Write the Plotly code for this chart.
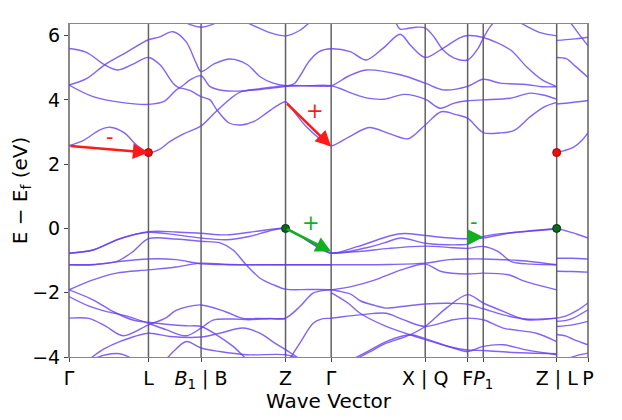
import plotly.graph_objects as go

# ---------------- high-symmetry path ----------------
kpath_pos = [0.0, 0.794, 1.32, 2.164, 2.62, 3.56, 3.984, 4.14, 4.874, 5.187]
kpath_labels = ["Γ", "L", "<i>B</i><sub>1</sub> | B", "Z", "Γ", "X | Q", "F",
                "<i>P</i><sub>1</sub>", "Z | L", "P"]
y_ticks = [-4, -2, 0, 2, 4, 6]

# ---------------- conduction bands ----------------
c1_k = [0, 0.15, 0.3, 0.41, 0.55, 0.68, 0.794, 0.9, 1.007, 1.15, 1.32, 1.47, 1.71, 1.91, 2.164,
        2.25, 2.31, 2.40, 2.50, 2.62, 2.81, 2.97, 3.14, 3.31, 3.41, 3.56, 3.74, 3.9, 3.984, 4.14,
        4.41, 4.57, 4.73, 4.874]
c1_e = [2.57, 2.75, 3.05, 3.15, 2.98, 2.58, 2.36, 2.45, 2.70, 2.95, 3.19, 3.64, 4.24, 4.32, 4.42,
        4.5, 4.75, 5.2, 5.5, 5.59, 5.5, 5.24, 5.61, 6.04, 5.71, 5.32, 5.61, 5.92, 6.0, 5.94,
        5.56, 5.04, 4.62, 4.41]

c2_k = [0, 0.24, 0.574, 0.794, 0.95, 1.10, 1.2, 1.32, 1.41, 1.47, 1.6, 1.72, 1.85, 1.97, 2.08, 2.164,
        2.21, 2.37, 2.54, 2.62, 2.8, 3.0, 3.2, 3.39, 3.56, 3.72, 3.87, 3.984, 4.14, 4.3, 4.45, 4.6,
        4.75, 4.874]
c2_e = [4.46, 4.10, 3.90, 3.86, 3.95, 4.36, 4.3, 4.10, 4.0, 3.72, 3.28, 3.22, 3.33, 3.58, 3.82, 3.94,
        3.79, 3.17, 2.71, 2.57, 2.85, 3.14, 2.95, 2.79, 3.22, 3.63, 3.54, 3.43, 2.98, 2.97, 3.05, 3.45,
        3.78, 3.92]

c3_k = [0, 0.17, 0.357, 0.574, 0.794, 0.9, 1.04, 1.17, 1.27, 1.32, 1.45, 1.61, 1.78, 1.91, 2.04, 2.164,
        2.4, 2.62, 2.8, 2.97, 3.31, 3.56, 3.74, 3.984, 4.14, 4.31, 4.57, 4.73, 4.874]
c3_e = [4.46, 4.65, 5.09, 5.48, 5.87, 5.95, 6.12, 5.81, 5.15, 4.88, 5.12, 5.27, 5.1, 4.72, 4.52, 4.44,
        4.44, 4.44, 4.75, 4.93, 4.78, 4.52, 4.31, 4.42, 4.64, 4.52, 4.48, 4.41, 4.41]

c4_k = [0, 0.174, 0.357, 0.49, 0.64, 0.794, 0.91, 1.04, 1.10, 1.21, 1.32, 1.41, 1.54, 1.74, 1.94, 2.164,
        2.4, 2.62, 2.83, 2.97, 3.15, 3.35, 3.56, 3.71, 3.85, 3.984, 4.14, 4.41, 4.61, 4.74, 4.874]
c4_e = [5.60, 5.48, 5.09, 4.93, 5.11, 5.32, 5.09, 4.52, 4.38, 4.62, 4.75, 4.41, 4.29, 4.28, 4.36, 4.44,
        4.44, 4.44, 4.2, 4.06, 4.02, 4.17, 4.02, 3.74, 3.9, 3.97, 4.0, 4.05, 4.21, 4.15, 4.02]

c5_k = [1.14, 1.22, 1.32, 1.42, 1.5]
c5_e = [6.45, 6.33, 6.26, 6.33, 6.45]

c6_k = [1.75, 1.85, 2.0, 2.164, 2.3, 2.42]
c6_e = [6.45, 6.3, 6.1, 5.99, 6.15, 6.45]

t2_k = [3.26, 3.31, 3.38, 3.47, 3.56, 3.65, 3.74, 3.85, 3.984, 4.09, 4.14, 4.21, 4.26]
t2_e = [6.45, 6.2, 6.22, 6.26, 6.24, 5.95, 5.55, 5.3, 5.24, 5.61, 5.92, 6.28, 6.45]

t3_k = [4.48, 4.58, 4.7, 4.874]
t3_e = [6.45, 6.28, 6.1, 5.99]

# segment Z|L -> P (conduction)
a1_k = [4.874, 4.95, 5.04, 5.12, 5.187]
a1_e = [2.36, 2.42, 2.52, 2.72, 2.97]
a2_k = [4.874, 5.03, 5.187]
a2_e = [3.87, 3.92, 3.98]
a3_k = [4.874, 4.97, 5.06, 5.187]
a3_e = [5.32, 5.28, 5.05, 4.70]
a4_k = [4.874, 5.03, 5.187]
a4_e = [5.85, 5.89, 5.95]
a5_k = [5.0, 5.06, 5.12, 5.187]
a5_e = [6.45, 6.2, 5.95, 5.68]

# ---------------- valence bands ----------------
v1_k = [0, 0.24, 0.5, 0.794, 1.07, 1.32, 1.57, 1.9, 2.164, 2.3, 2.5, 2.62,
        2.89, 3.22, 3.35, 3.56, 3.74, 3.984, 4.14, 4.39, 4.874]
v1_e = [-0.77, -0.67, -0.33, -0.10, -0.11, -0.15, -0.2, -0.08, 0.0, -0.22, -0.6, -0.77,
        -0.56, -0.22, -0.16, -0.22, -0.28, -0.32, -0.3, -0.15, 0.0]

v2_k = [0, 0.24, 0.5, 0.794, 1.07, 1.32, 1.57, 1.8, 2.0, 2.164, 2.3, 2.5, 2.62,
        2.96, 3.15, 3.32, 3.56, 3.89, 3.984, 4.14, 4.56, 4.874]
v2_e = [-0.77, -0.67, -0.33, -0.12, -0.2, -0.3, -0.35, -0.25, -0.08, 0.0, -0.22, -0.6, -0.77,
        -0.61, -0.45, -0.3, -0.46, -0.51, -0.49, -0.25, -0.1, -0.02]

v3_k = [0, 0.24, 0.474, 0.64, 0.794, 1.07, 1.32, 1.51, 1.64, 1.77, 1.91, 2.04, 2.164, 2.4, 2.62,
        2.71, 2.82, 2.91, 3.06, 3.17, 3.35, 3.56, 3.8, 3.984, 4.14, 4.34, 4.57, 4.874]
v3_e = [-1.13, -1.12, -1.03, -0.72, -0.32, -0.33, -0.4, -0.45, -0.67, -1.13, -1.55, -1.75, -1.89, -1.9,
        -1.91, -1.96, -2.05, -2.25, -2.4, -2.48, -2.42, -2.35, -2.33, -2.36, -2.5, -2.69, -2.82, -2.79]

v4_k = [0, 0.24, 0.47, 0.794, 1.07, 1.32, 1.6, 2.164, 2.62, 3.2, 3.56, 3.8, 3.984, 4.14, 4.5, 4.874]
v4_e = [-1.13, -1.13, -1.04, -0.95, -0.97, -1.1, -1.13, -1.13, -1.13, -1.12, -1.08, -0.97, -0.95,
        -0.95, -1.0, -1.13]

v5_k = [0, 0.24, 0.474, 0.794, 1.07, 1.32, 1.6, 2.164, 2.62]
v5_e = [-1.91, -1.6, -1.39, -1.29, -1.2, -1.08, -1.12, -1.13, -1.13]

w3_k = [2.62, 2.9, 3.2, 3.56, 3.84, 3.984, 4.14, 4.29, 4.42, 4.62, 4.874]
w3_e = [-0.77, -0.72, -0.62, -0.55, -0.6, -0.62, -0.56, -0.72, -1.03, -1.11, -1.13]

e1_k = [2.62, 2.82, 3.06, 3.32, 3.56, 3.72, 3.984, 4.14, 4.39, 4.56, 4.874]
e1_e = [-1.91, -1.81, -1.6, -1.29, -1.11, -1.34, -1.42, -1.39, -1.44, -1.65, -1.91]

d1_k = [0, 0.24, 0.45, 0.64, 0.794, 0.97, 1.17, 1.32, 1.474, 1.64, 1.774, 1.85]
d1_e = [-1.91, -2.22, -2.6, -2.85, -2.92, -2.98, -3.03, -3.05, -3.31, -3.67, -4.06, -4.2]

d2_k = [0, 0.2, 0.37, 0.57, 0.794, 0.97, 1.17, 1.32, 1.44, 1.64, 1.8, 2.0, 2.164, 2.307, 2.44, 2.57, 2.62]
d2_e = [-2.12, -2.42, -2.58, -2.72, -2.95, -3.15, -3.34, -3.1, -2.85, -2.82, -2.84, -2.8, -2.79,
        -2.43, -2.01, -1.92, -1.91]

d3_k = [0, 0.2, 0.37, 0.54, 0.794, 0.97, 1.07, 1.32, 1.57, 1.74, 1.9, 2.164]
d3_e = [-2.79, -2.8, -3.05, -3.34, -3.0, -2.78, -2.55, -2.38, -2.6, -2.8, -2.8, -2.82]

d4_k = [0.207, 0.35, 0.507, 0.794, 1.007, 1.32, 1.507, 1.74, 1.907, 2.05, 2.164, 2.307]
d4_e = [-4.06, -3.75, -3.52, -3.26, -3.36, -3.38, -3.26, -3.10, -3.26, -3.55, -3.77, -4.06]

d5_k = [0.24, 0.37, 0.507, 0.64]
d5_e = [-4.06, -3.93, -3.9, -4.06]

d6_k = [0.974, 1.07, 1.174, 1.32, 1.507, 1.774, 2.164, 2.307]
d6_e = [-4.06, -3.75, -3.52, -3.72, -3.83, -3.93, -3.93, -4.06]

d7_k = [2.207, 2.307, 2.44, 2.52, 2.62, 2.91, 3.17, 3.34, 3.56, 3.84, 3.984, 4.14, 4.34, 4.67, 4.874]
d7_e = [-4.06, -3.57, -2.95, -2.82, -2.79, -2.69, -2.64, -2.84, -3.05, -2.84, -2.79, -2.84, -3.10,
        -3.26, -3.52]

e3_k = [2.62, 2.8, 2.91, 3.17, 3.4, 3.56, 3.8, 3.984, 4.14, 4.4, 4.874]
e3_e = [-2.0, -2.35, -2.64, -3.05, -3.3, -3.46, -3.68, -3.78, -3.8, -3.85, -3.9]

e5_k = [2.87, 3.0, 3.17, 3.37, 3.56, 3.77, 3.984, 4.14, 4.34, 4.57, 4.874]
e5_e = [-4.06, -3.85, -3.57, -3.36, -3.05, -2.48, -2.06, -2.32, -2.58, -2.84, -2.79]

e6_k = [2.84, 3.0, 3.17, 3.41, 3.56, 3.84, 3.984, 4.14, 4.34, 4.57, 4.874]
e6_e = [-4.06, -3.8, -3.52, -3.31, -3.43, -3.72, -3.83, -3.67, -3.62, -3.78, -3.93]

# segment Z|L -> P (valence)
b1_k = [4.874, 4.97, 5.08, 5.187]
b1_e = [0.0, -0.08, -0.18, -0.30]
b2_k = [4.874, 5.03, 5.187]
b2_e = [-0.93, -0.93, -0.95]
b3_k = [4.874, 5.03, 5.187]
b3_e = [-1.33, -1.34, -1.36]
b4_k = [4.874, 4.97, 5.08, 5.187]
b4_e = [-2.79, -2.72, -2.55, -2.32]
b5_k = [4.874, 4.97, 5.04, 5.187]
b5_e = [-2.89, -2.86, -2.79, -2.53]
b6_k = [4.874, 5.03, 5.187]
b6_e = [-3.05, -3.0, -2.89]
b7_k = [4.874, 4.97, 5.04, 5.187]
b7_e = [-3.3, -3.35, -3.45, -3.62]
b8_k = [4.974, 5.08, 5.187]
b8_e = [-4.06, -3.95, -3.88]

bands = [
    (c1_k, c1_e), (c2_k, c2_e), (c3_k, c3_e), (c4_k, c4_e), (c5_k, c5_e), (c6_k, c6_e),
    (t2_k, t2_e), (t3_k, t3_e), (a1_k, a1_e), (a2_k, a2_e), (a3_k, a3_e), (a4_k, a4_e),
    (a5_k, a5_e), (v1_k, v1_e), (v2_k, v2_e), (v3_k, v3_e), (v4_k, v4_e), (v5_k, v5_e),
    (w3_k, w3_e), (e1_k, e1_e), (d1_k, d1_e), (d2_k, d2_e), (d3_k, d3_e), (d4_k, d4_e),
    (d5_k, d5_e), (d6_k, d6_e), (d7_k, d7_e), (e3_k, e3_e), (e5_k, e5_e), (e6_k, e6_e),
    (b1_k, b1_e), (b2_k, b2_e), (b3_k, b3_e), (b4_k, b4_e), (b5_k, b5_e), (b6_k, b6_e),
    (b7_k, b7_e), (b8_k, b8_e),
]

# ---------------- transitions (arrows), extremum dots, labels ----------------
red_arrow_start_k = [0.0, 2.164]
red_arrow_start_e = [2.57, 3.93]
red_arrow_end_k = [0.794, 2.62]
red_arrow_end_e = [2.36, 2.55]
green_arrow_start_k = [2.164, 3.99]
green_arrow_start_e = [0.0, -0.27]
green_arrow_end_k = [2.62, 4.14]
green_arrow_end_e = [-0.72, -0.27]

cbm_k = [0.794, 4.874]
cbm_e = [2.36, 2.36]
vbm_k = [2.164, 4.874]
vbm_e = [0.0, 0.0]

red_sign_k = [0.407, 2.457]
red_sign_e = [2.86, 3.64]
red_sign_text = ["-", "+"]
green_sign_k = [2.42, 4.05]
green_sign_e = [0.17, 0.21]
green_sign_text = ["+", "-"]

BAND_COLOR = "rgba(100,60,240,0.8)"
RED = "#ff1a1a"
GREEN = "#10b020"

fig = go.Figure()

for kk in kpath_pos:
    fig.add_shape(type="line", xref="x", yref="paper", x0=kk, x1=kk, y0=0, y1=1,
                  line=dict(color="rgba(70,70,70,0.85)", width=1.5), layer="below")

for kk, ee in bands:
    fig.add_trace(go.Scatter(x=kk, y=ee, mode="lines",
                             line=dict(color=BAND_COLOR, width=1.4, shape="spline", smoothing=0.9),
                             hoverinfo="skip"))

fig.add_trace(go.Scatter(x=cbm_k, y=cbm_e, mode="markers",
                         marker=dict(color="#e81010", size=8, line=dict(color="#b00000", width=1))))
fig.add_trace(go.Scatter(x=vbm_k, y=vbm_e, mode="markers",
                         marker=dict(color="#0b6a1a", size=8, line=dict(color="#053010", width=1))))

for i in range(len(red_arrow_start_k)):
    fig.add_annotation(x=red_arrow_end_k[i], y=red_arrow_end_e[i],
                       ax=red_arrow_start_k[i], ay=red_arrow_start_e[i],
                       xref="x", yref="y", axref="x", ayref="y", text="",
                       showarrow=True, arrowhead=2, arrowsize=1.2, arrowwidth=2.6, arrowcolor=RED)
for i in range(len(green_arrow_start_k)):
    fig.add_annotation(x=green_arrow_end_k[i], y=green_arrow_end_e[i],
                       ax=green_arrow_start_k[i], ay=green_arrow_start_e[i],
                       xref="x", yref="y", axref="x", ayref="y", text="",
                       showarrow=True, arrowhead=2, arrowsize=1.2, arrowwidth=2.6, arrowcolor=GREEN)

for i in range(len(red_sign_k)):
    fig.add_annotation(x=red_sign_k[i], y=red_sign_e[i], text=red_sign_text[i], showarrow=False,
                       font=dict(color=RED, size=21, family="DejaVu Sans"))
for i in range(len(green_sign_k)):
    fig.add_annotation(x=green_sign_k[i], y=green_sign_e[i], text=green_sign_text[i], showarrow=False,
                       font=dict(color=GREEN, size=21, family="DejaVu Sans"))

fig.update_layout(
    width=622, height=420,
    margin=dict(l=61, r=42, t=16, b=71, autoexpand=False),
    plot_bgcolor="white", paper_bgcolor="white",
    showlegend=False,
    font=dict(family="DejaVu Sans", size=19, color="black"),
)
fig.update_xaxes(range=[kpath_pos[0], kpath_pos[-1]], tickvals=kpath_pos, ticktext=kpath_labels,
                 tickangle=0, ticks="outside", ticklen=4, tickcolor="#444", automargin=False,
                 showgrid=False, zeroline=False, showline=True, linecolor="#888", mirror=True,
                 title=dict(text="Wave Vector", font=dict(size=20), standoff=2))
fig.update_yaxes(range=[-4, 6.36], tickvals=y_ticks, ticks="outside", ticklen=4, tickcolor="#444",
                 automargin=False,
                 showgrid=False, zeroline=False, showline=True, linecolor="#888", mirror=True,
                 title=dict(text="E − E<sub>f</sub> (eV)", font=dict(size=20), standoff=4))

fig.write_html("out.html")
